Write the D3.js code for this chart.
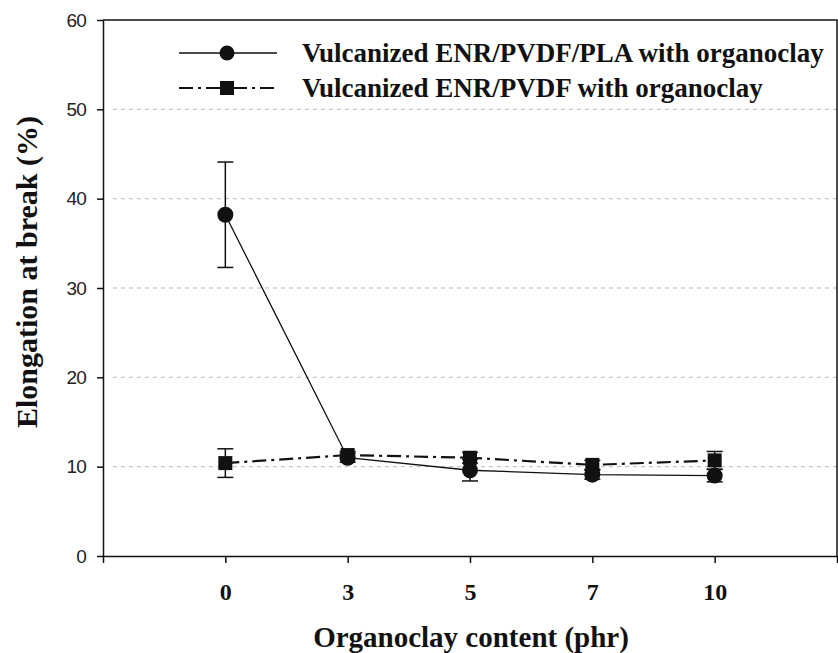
<!DOCTYPE html>
<html>
<head>
<meta charset="utf-8">
<script src="https://cdn.jsdelivr.net/npm/d3@7"></script>
<style>
  body { margin: 0; background: #fff; }
  svg { display: block; }
</style>
</head>
<body>
<svg width="838" height="653"></svg>
<script>
const width = 838, height = 653;
const svg = d3.select("svg");

// donnees
const contents = ["0", "3", "5", "7", "10"];
const plaValues = [38.2, 11.0, 9.6, 9.1, 9.0];
const plaErrors = [5.9, 0.5, 1.2, 0.5, 0.7];
const pvdfValues = [10.4, 11.3, 11.0, 10.2, 10.7];
const pvdfErrors = [1.6, 0.4, 0.6, 0.5, 1.0];
const yTicks = [0, 10, 20, 30, 40, 50, 60];
const gridValues = [10, 20, 30, 40, 50];
const seriesNames = [
  "Vulcanized ENR/PVDF/PLA with organoclay",
  "Vulcanized ENR/PVDF with organoclay"
];

const plotLeft = 103, plotRight = 837, plotTop = 20, plotBottom = 556;
const ink = "#111";
const serif = "'Liberation Serif', 'Times New Roman', serif";
const sans = "'Liberation Sans', Arial, sans-serif";

// position des categories : une case vide de chaque cote
const x = d3.scaleLinear().domain([-1, contents.length]).range([plotLeft, plotRight]);
const y = d3.scaleLinear().domain([0, 60]).range([plotBottom, plotTop]);

// grille pointillee
svg.append("g")
  .selectAll("line")
  .data(gridValues)
  .enter()
  .append("line")
  .attr("x1", plotLeft + 10)
  .attr("x2", plotRight)
  .attr("y1", d => y(d))
  .attr("y2", d => y(d))
  .attr("stroke", "#bbb")
  .attr("stroke-width", 1)
  .attr("stroke-dasharray", "4,4");

// cadre haut et droit
svg.append("path")
  .attr("d", `M${plotLeft},${plotTop}H${plotRight}V${plotBottom}`)
  .attr("fill", "none")
  .attr("stroke", ink)
  .attr("stroke-width", 1.5);

// axe Y
const yAxis = svg.append("g")
  .attr("transform", `translate(${plotLeft},0)`)
  .call(d3.axisLeft(y).tickValues(yTicks).tickSize(6).tickPadding(11).tickSizeOuter(0));
yAxis.select(".domain").attr("stroke", ink).attr("stroke-width", 1.5);
yAxis.selectAll(".tick line").attr("stroke", ink).attr("stroke-width", 1.5);
yAxis.selectAll("text")
  .style("font-family", sans)
  .style("font-size", "19px")
  .style("letter-spacing", "-0.8px")
  .attr("fill", "#222");

// axe X
const xAxis = svg.append("g")
  .attr("transform", `translate(0,${plotBottom})`)
  .call(d3.axisBottom(x)
    .tickValues(d3.range(contents.length))
    .tickFormat(i => contents[i])
    .tickSize(7)
    .tickSizeOuter(7));
xAxis.select(".domain").attr("stroke", ink).attr("stroke-width", 1.5);
xAxis.selectAll(".tick line").attr("stroke", ink).attr("stroke-width", 1.5);
xAxis.selectAll("text")
  .attr("y", 27)
  .attr("dy", "0.71em")
  .style("font-family", serif)
  .style("font-weight", "bold")
  .style("font-size", "24px")
  .attr("fill", ink);

// titres des axes
svg.append("text")
  .attr("x", 471)
  .attr("y", 647)
  .attr("text-anchor", "middle")
  .style("font-family", serif)
  .style("font-weight", "bold")
  .style("font-size", "29px")
  .attr("fill", ink)
  .text("Organoclay content (phr)");

svg.append("text")
  .attr("transform", "translate(37,272) rotate(-90)")
  .attr("text-anchor", "middle")
  .style("font-family", serif)
  .style("font-weight", "bold")
  .style("font-size", "30px")
  .attr("fill", ink)
  .text("Elongation at break (%)");

const idx = d3.range(contents.length);
const dashDot = "14,5,3,5";

// lignes
svg.append("path")
  .datum(idx)
  .attr("fill", "none")
  .attr("stroke", ink)
  .attr("stroke-width", 1.3)
  .attr("d", d3.line().x(i => x(i)).y(i => y(plaValues[i])));

svg.append("path")
  .datum(idx)
  .attr("fill", "none")
  .attr("stroke", ink)
  .attr("stroke-width", 2.2)
  .attr("stroke-dasharray", dashDot)
  .attr("d", d3.line().x(i => x(i)).y(i => y(pvdfValues[i])));

// barres d'erreur
function errorBars(values, errors) {
  const g = svg.append("g").attr("stroke", ink).attr("stroke-width", 1.5);
  idx.forEach(i => {
    const cx = x(i), y1 = y(values[i] + errors[i]), y2 = y(values[i] - errors[i]);
    g.append("line").attr("x1", cx).attr("x2", cx).attr("y1", y1).attr("y2", y2);
    g.append("line").attr("x1", cx - 8).attr("x2", cx + 8).attr("y1", y1).attr("y2", y1);
    g.append("line").attr("x1", cx - 8).attr("x2", cx + 8).attr("y1", y2).attr("y2", y2);
  });
}
errorBars(pvdfValues, pvdfErrors);
errorBars(plaValues, plaErrors);

// marqueurs
svg.append("g")
  .selectAll("rect")
  .data(idx)
  .enter()
  .append("rect")
  .attr("x", i => x(i) - 7)
  .attr("y", i => y(pvdfValues[i]) - 7)
  .attr("width", 14)
  .attr("height", 14)
  .attr("fill", ink);

svg.append("g")
  .selectAll("circle")
  .data(idx)
  .enter()
  .append("circle")
  .attr("cx", i => x(i))
  .attr("cy", i => y(plaValues[i]))
  .attr("r", 8)
  .attr("fill", ink);

// legende
const legend = svg.append("g");
const legendRows = [
  { name: seriesNames[0], y: 53, dash: null, w: 1.3, shape: "circle" },
  { name: seriesNames[1], y: 88, dash: dashDot, w: 2.2, shape: "square" }
];
legendRows.forEach(r => {
  legend.append("line")
    .attr("x1", 179).attr("x2", 277)
    .attr("y1", r.y).attr("y2", r.y)
    .attr("stroke", ink)
    .attr("stroke-width", r.w)
    .attr("stroke-dasharray", r.dash);
  if (r.shape === "circle") {
    legend.append("circle").attr("cx", 227).attr("cy", r.y).attr("r", 7.5).attr("fill", ink);
  } else {
    legend.append("rect").attr("x", 220).attr("y", r.y - 7).attr("width", 14).attr("height", 14).attr("fill", ink);
  }
  legend.append("text")
    .attr("x", 302)
    .attr("y", r.y + 9)
    .style("font-family", serif)
    .style("font-weight", "bold")
    .style("font-size", "27px")
    .attr("fill", ink)
    .text(r.name);
});
</script>
</body>
</html>
